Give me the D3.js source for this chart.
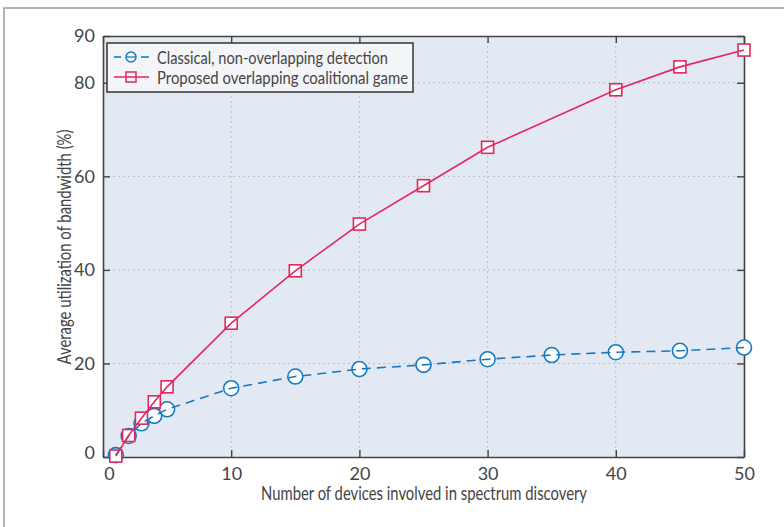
<!DOCTYPE html>
<html>
<head>
<meta charset="utf-8">
<script src="https://cdn.jsdelivr.net/npm/d3@7"></script>
<style>
  body { margin: 0; background: #fff; }
  svg text { font-family: Lato, "DejaVu Sans Condensed", sans-serif; fill: #444; }
</style>
</head>
<body>
<svg id="chart" width="784" height="527"></svg>
<script>
// chart data
const xTicks = [0, 10, 20, 30, 40, 50];
const yTicks = [0, 20, 40, 60, 80, 90];

const classicalX = [1, 2, 3, 4, 5, 10, 15, 20, 25, 30, 35, 40, 45, 50];
const classicalY = [0.4, 4.5, 7.2, 8.8, 10.2, 14.7, 17.2, 18.8, 19.7, 20.9, 21.8, 22.4, 22.7, 23.4];

const proposedX = [1, 2, 3, 4, 5, 10, 15, 20, 25, 30, 40, 45, 50];
const proposedY = [0.2, 4.6, 8.3, 11.8, 15.0, 28.6, 39.8, 49.8, 58.0, 66.2, 78.5, 83.4, 87.0];

const seriesNames = ["Classical, non-overlapping detection", "Proposed overlapping coalitional game"];
const blue = "#1679c0";
const pink = "#e5265f";

const svg = d3.select("#chart");
const margin = { left: 103, right: 40, top: 36, bottom: 70 };

// outer frame
svg.append("rect")
  .attr("x", 4).attr("y", 8)
  .attr("width", 800).attr("height", 560)
  .attr("fill", "none").attr("stroke", "#9a9a9a").attr("stroke-width", 1.5);

const x = d3.scaleLinear().domain([0, 50]).range([margin.left, 744]);
const y = d3.scaleLinear().domain([0, 90]).range([457, margin.top]);

// plot background
svg.append("rect")
  .attr("x", x(0)).attr("y", y(90))
  .attr("width", x(50) - x(0)).attr("height", y(0) - y(90))
  .attr("fill", "#e3e9f2");

// dotted grid
const grid = svg.append("g").attr("stroke", "#bdbdbd").attr("stroke-dasharray", "2,3").attr("stroke-width", 1);
grid.selectAll(".gx").data(xTicks.slice(1, -1)).enter().append("line")
  .attr("x1", d => x(d)).attr("x2", d => x(d)).attr("y1", y(90)).attr("y2", y(0));
grid.selectAll(".gy").data(yTicks.slice(1, -1)).enter().append("line")
  .attr("y1", d => y(d)).attr("y2", d => y(d)).attr("x1", x(0)).attr("x2", x(50));

// axes, ticks pointing inside
const axisColor = "#444";
const tk = 7;
const axBottom = svg.append("g").attr("transform", `translate(0,${y(0)})`)
  .call(d3.axisBottom(x).tickValues(xTicks).tickSize(-tk).tickPadding(10).tickSizeOuter(0));
const axTop = svg.append("g").attr("transform", `translate(0,${y(90)})`)
  .call(d3.axisTop(x).tickValues(xTicks).tickSize(-tk).tickFormat("").tickSizeOuter(0));
const axLeft = svg.append("g").attr("transform", `translate(${x(0)},0)`)
  .call(d3.axisLeft(y).tickValues(yTicks).tickSize(-tk).tickPadding(8).tickSizeOuter(0));
const axRight = svg.append("g").attr("transform", `translate(${x(50)},0)`)
  .call(d3.axisRight(y).tickValues(yTicks).tickSize(-tk).tickFormat("").tickSizeOuter(0));

[axBottom, axTop, axLeft, axRight].forEach(g => {
  g.select(".domain").attr("stroke", axisColor).attr("stroke-width", 1.6);
  g.selectAll(".tick line").attr("stroke", axisColor).attr("stroke-width", 1.4);
  g.selectAll(".tick text").attr("font-size", 18).attr("fill", "#4a4a4a")
    .style("font-family", 'Lato, "DejaVu Sans Condensed", sans-serif');
});
axBottom.selectAll(".tick text").filter(d => d === 0).attr("dx", 6);
axLeft.selectAll(".tick text").filter(d => d === 0).attr("dy", "0.1em");

// axis titles
svg.append("text")
  .attr("x", 424).attr("y", 500)
  .attr("text-anchor", "middle").attr("font-size", 18.5)
  .attr("textLength", 326).attr("lengthAdjust", "spacingAndGlyphs")
  .text("Number of devices involved in spectrum discovery");
svg.append("text")
  .attr("transform", `translate(71,247) rotate(-90)`)
  .attr("text-anchor", "middle").attr("font-size", 18.5)
  .attr("textLength", 235).attr("lengthAdjust", "spacingAndGlyphs")
  .text("Average utilization of bandwidth (%)");

// series
const classical = classicalX.map((v, i) => [v, classicalY[i]]);
const proposed = proposedX.map((v, i) => [v, proposedY[i]]);
const line = d3.line().x(d => x(d[0])).y(d => y(d[1]));

// markers first, line over them
svg.append("g").selectAll("circle").data(classical).enter().append("circle")
  .attr("cx", d => x(d[0])).attr("cy", d => y(d[1])).attr("r", 7.5)
  .attr("fill", "#fff").attr("stroke", blue).attr("stroke-width", 1.6);
svg.append("g").selectAll("rect").data(proposed).enter().append("rect")
  .attr("x", d => x(d[0]) - 6).attr("y", d => y(d[1]) - 6)
  .attr("width", 12).attr("height", 12)
  .attr("fill", "#fff").attr("stroke", pink).attr("stroke-width", 1.6);

svg.append("path").datum(classical).attr("d", line)
  .attr("fill", "none").attr("stroke", blue).attr("stroke-width", 1.6)
  .attr("stroke-dasharray", "9,6");
svg.append("path").datum(proposed).attr("d", line)
  .attr("fill", "none").attr("stroke", pink).attr("stroke-width", 1.6);

// legend
const lg = svg.append("g").attr("transform", "translate(107,43)");
lg.append("rect").attr("width", 306).attr("height", 49)
  .attr("fill", "#f3f5f9").attr("stroke", "#333").attr("stroke-width", 1.5);
const rows = [
  { name: seriesNames[0], color: blue, dashed: true, len: 231 },
  { name: seriesNames[1], color: pink, dashed: false, len: 251 }
];
rows.forEach((r, i) => {
  const cy = 14 + i * 20;
  const g = lg.append("g");
  if (r.dashed) {
    g.append("line").attr("x1", 7).attr("x2", 14).attr("y1", cy).attr("y2", cy)
      .attr("stroke", r.color).attr("stroke-width", 1.6);
    g.append("line").attr("x1", 34).attr("x2", 42).attr("y1", cy).attr("y2", cy)
      .attr("stroke", r.color).attr("stroke-width", 1.6);
    g.append("circle").attr("cx", 24).attr("cy", cy).attr("r", 5)
      .attr("fill", "none").attr("stroke", r.color).attr("stroke-width", 1.5);
    g.append("line").attr("x1", 19).attr("x2", 29).attr("y1", cy).attr("y2", cy)
      .attr("stroke", r.color).attr("stroke-width", 1.3);
  } else {
    g.append("line").attr("x1", 7).attr("x2", 42).attr("y1", cy).attr("y2", cy)
      .attr("stroke", r.color).attr("stroke-width", 1.6);
    g.append("rect").attr("x", 19).attr("y", cy - 5).attr("width", 10).attr("height", 10)
      .attr("fill", "none").attr("stroke", r.color).attr("stroke-width", 1.5);
  }
  g.append("text").attr("x", 50).attr("y", cy + 6.5).attr("font-size", 18)
    .attr("textLength", r.len).attr("lengthAdjust", "spacingAndGlyphs")
    .attr("fill", "#333").text(r.name);
});
</script>
</body>
</html>
